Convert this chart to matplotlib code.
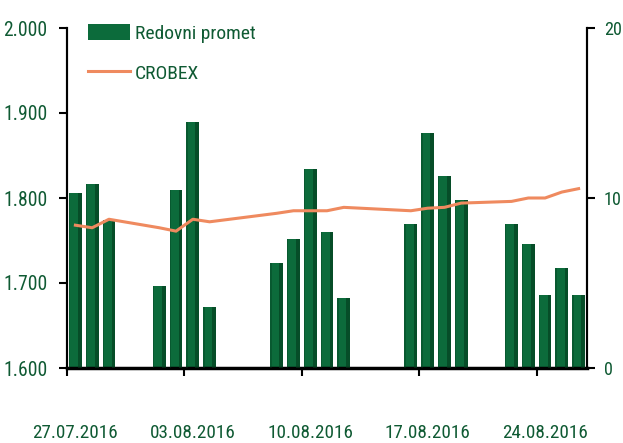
import matplotlib
matplotlib.use("Agg")
import matplotlib.pyplot as plt
import matplotlib.dates as mdates
from matplotlib import font_manager
from matplotlib.patches import Patch
from matplotlib.lines import Line2D
from matplotlib.ticker import FixedLocator, FuncFormatter, NullFormatter
import datetime as dt

dates = ["2016-07-27", "2016-07-28", "2016-07-29",
         "2016-08-01", "2016-08-02", "2016-08-03", "2016-08-04",
         "2016-08-08", "2016-08-09", "2016-08-10", "2016-08-11", "2016-08-12",
         "2016-08-16", "2016-08-17", "2016-08-18", "2016-08-19",
         "2016-08-22", "2016-08-23", "2016-08-24", "2016-08-25", "2016-08-26"]
promet = [10.3, 10.8, 8.7,
          4.8, 10.5, 14.5, 3.6,
          6.2, 7.6, 11.7, 8.0, 4.1,
          8.5, 13.8, 11.3, 9.9,
          8.5, 7.3, 4.3, 5.9, 4.3]
crobex = [1768, 1765, 1775,
          1765, 1761, 1775, 1772,
          1782, 1785, 1785, 1785, 1789,
          1785, 1788, 1789, 1794,
          1796, 1800, 1800, 1807, 1811]
tick_dates = ["2016-07-27", "2016-08-03", "2016-08-10", "2016-08-17", "2016-08-24"]
tick_labels = ["27.07.2016", "03.08.2016", "10.08.2016", "17.08.2016", "24.08.2016"]
left_ticks = [1600, 1700, 1800, 1900, 2000]
right_ticks = [0, 10, 20]
series_names = ["Redovni promet", "CROBEX"]

# ---- choose the narrowest available sans font ----
ttf = font_manager.fontManager.ttflist
names = {f.name for f in ttf}
def has_cond(name):
    return any(f.name == name and "condensed" in f.fname.lower() and "bold" not in f.fname.lower()
               and "italic" not in f.fname.lower() and "oblique" not in f.fname.lower() for f in ttf)
fam, stretch = "Liberation Sans", "normal"
for cand in ["Liberation Sans Narrow", "Roboto Condensed", "Open Sans Condensed", "Noto Sans Condensed"]:
    if cand in names:
        fam, stretch = cand, "normal"
        break
else:
    for cand in ["Roboto", "Noto Sans", "DejaVu Sans", "Open Sans"]:
        if has_cond(cand):
            fam, stretch = cand, "condensed"
            break
plt.rcParams["font.family"] = [fam, "DejaVu Sans"]
plt.rcParams["font.stretch"] = stretch

GREEN_TXT = "#0f5a33"
BAR = "#0c6b3b"
BAR_DARK = "#033a1c"
LINE = "#ef8a5f"

fig = plt.figure(figsize=(6.23, 4.43), dpi=100)
renderer = fig.canvas.get_renderer()

def fit_size(s, target_w, base=20.0):
    t = fig.text(0, 0, s, fontsize=base)
    w = t.get_window_extent(renderer).width
    t.remove()
    return base * target_w / w

fs_y = min(fit_size("2.000", 44), 19)
fs_r = min(fit_size("20", 18), fs_y)
fs_x = min(fit_size("27.07.2016", 86), 18)
fs_leg = min(fit_size("Redovni promet", 120), 18)

x = mdates.date2num([dt.datetime.strptime(d, "%Y-%m-%d") for d in dates])
xc = x + 0.5

ax1 = fig.add_axes([67/623, 1-368/443, (587-67)/623, 340/443])
ax2 = ax1.twinx()

w = 0.76
ax1.bar(xc, promet, width=w, color=BAR, edgecolor="none", zorder=2)
ax1.bar(xc + w/2 - 0.11, promet, width=0.22, color=BAR_DARK, edgecolor="none", alpha=0.6, zorder=3)
ax1.bar(xc - w/2 + 0.04, promet, width=0.08, color=BAR_DARK, edgecolor="none", alpha=0.35, zorder=3)
ax1.set_ylim(0, 20)

ax2.plot(xc, crobex, color=LINE, lw=2.2, zorder=5)
ax2.set_ylim(1600, 2000)

x0 = mdates.date2num(dt.datetime(2016, 7, 27))
x1 = mdates.date2num(dt.datetime(2016, 8, 27))
ax1.set_xlim(x0, x1)

ax1.yaxis.tick_right()
ax1.yaxis.set_label_position("right")
ax2.yaxis.tick_left()
ax2.yaxis.set_label_position("left")
ax1.set_yticks(right_ticks)
ax2.set_yticks(left_ticks)
ax2.yaxis.set_major_formatter(FuncFormatter(lambda v, p: f"{int(round(v)):,}".replace(",", ".")))

tx = mdates.date2num([dt.datetime.strptime(d, "%Y-%m-%d") for d in tick_dates])
ax1.xaxis.set_major_locator(FixedLocator(tx))
ax1.xaxis.set_major_formatter(NullFormatter())
ax1.set_xticks(tx + 0.5, tick_labels, minor=True)
ax1.tick_params(axis="x", which="minor", length=0, pad=40, labelsize=fs_x, labelcolor=GREEN_TXT)
ax1.tick_params(axis="x", which="major", length=6, width=1.5, direction="out", color="black")
ax1.tick_params(axis="y", length=6, width=1.5, pad=6, labelsize=fs_r, labelcolor=GREEN_TXT)
ax2.tick_params(axis="y", length=6, width=1.5, pad=8, labelsize=fs_y, labelcolor=GREEN_TXT)

for a in (ax1, ax2):
    a.spines["top"].set_visible(False)
    for s in ("left", "right"):
        a.spines[s].set_linewidth(1.5)
    a.spines["bottom"].set_linewidth(2.5)
ax2.spines["bottom"].set_visible(False)

px = fs_leg * 100 / 72.0
handles = [Patch(facecolor=BAR, edgecolor="none", label=series_names[0]),
           Line2D([0], [0], color=LINE, lw=2.2, label=series_names[1])]
row_h = px * 1.17
leg = fig.legend(handles=handles, loc="upper left",
                 bbox_to_anchor=(88/623, 1 - (35 - row_h/2)/443),
                 frameon=False, fontsize=fs_leg, borderpad=0, borderaxespad=0,
                 handlelength=42/px, handleheight=18/px,
                 handletextpad=5/px, labelspacing=max(0.0, (44 - row_h)/px))
for t in leg.get_texts():
    t.set_color(GREEN_TXT)

fig.savefig("out.png", dpi=100)
